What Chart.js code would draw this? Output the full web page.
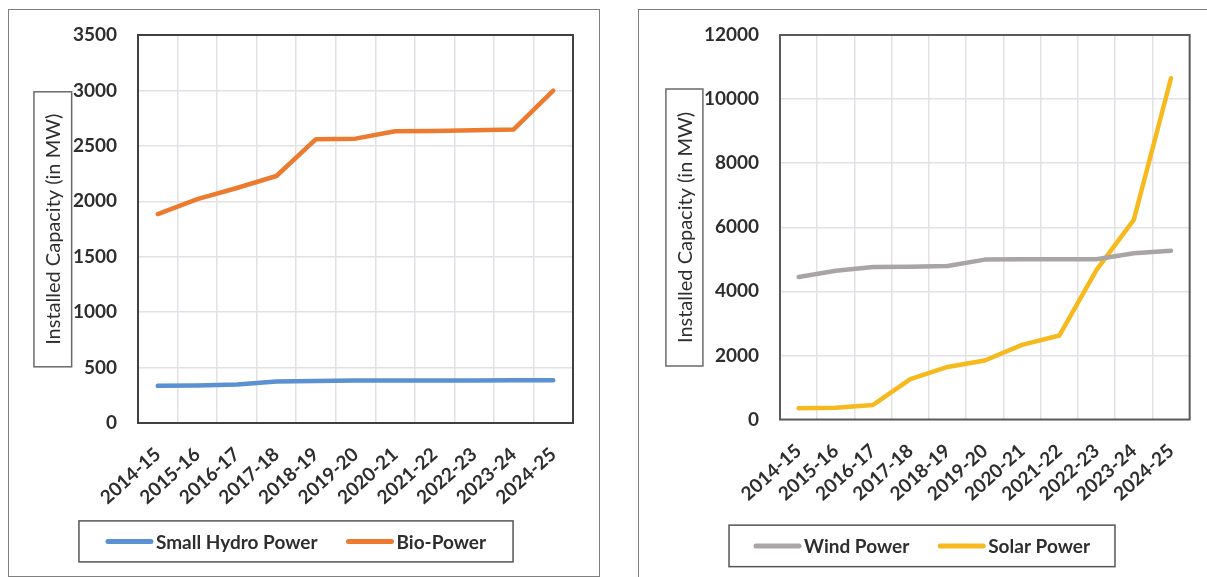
<!DOCTYPE html>
<html>
<head>
<meta charset="utf-8">
<script src="https://cdn.jsdelivr.net/npm/chart.js@4.4.1/dist/chart.umd.min.js"></script>
<style>
  html, body { margin: 0; padding: 0; background: #fff; }
  body { width: 1207px; height: 577px; overflow: hidden; position: relative; font-family: Lato, sans-serif; }
  .panel { position: absolute; box-sizing: border-box; border: 1.5px solid #808080; background: #fff; }
  .wrap { position: absolute; }
</style>
</head>
<body>
<div class="panel" style="left:8px;top:9px;width:592px;height:568px"></div>
<div class="panel" style="left:638px;top:9px;width:620px;height:620px"></div>
<div class="wrap" style="left:8px;top:10px;width:590px;height:565px"><canvas id="leftChart"></canvas></div>
<div class="wrap" style="left:639px;top:10px;width:568px;height:567px"><canvas id="rightChart"></canvas></div>

<script>
// Financial years on the x axis
const years = ['2014-15', '2015-16', '2016-17', '2017-18', '2018-19', '2019-20',
               '2020-21', '2021-22', '2022-23', '2023-24', '2024-25'];

// Installed capacity, MW
const smallHydro = [335, 338, 348, 375, 378, 383, 383, 383, 383, 386, 386];
const bioPower   = [1885, 2020, 2120, 2228, 2560, 2565, 2632, 2635, 2640, 2648, 2998];
const windPower  = [4450, 4640, 4760, 4770, 4790, 4990, 5000, 5000, 5000, 5190, 5270];
const solarPower = [350, 370, 455, 1260, 1640, 1840, 2330, 2620, 4670, 6230, 10650];

// Value axis ranges
const leftAxis  = { max: 3500, step: 500 };
const rightAxis = { max: 12000, step: 2000 };

const axisTitle = 'Installed Capacity (in MW)';

const TEXT = '#2e2e2e';
const GRID = '#e2e2e6';
const tickFont = { family: 'Lato', size: 19, weight: 'bold' };

// Plot frame, boxed axis title and boxed legend
const decorations = {
  id: 'decorations',
  beforeDatasetsDraw(chart, args, o) {
    const { ctx, chartArea: a } = chart;
    ctx.save();
    ctx.strokeStyle = o.frameColor;
    ctx.lineWidth = 2;
    ctx.strokeRect(a.left, a.top, a.right - a.left, a.bottom - a.top);
    ctx.restore();
  },
  afterDraw(chart, args, o) {
    const ctx = chart.ctx;
    ctx.save();
    // axis title in a box
    const t = o.title;
    ctx.strokeStyle = '#6a6a6a';
    ctx.lineWidth = 1.5;
    ctx.strokeRect(t.cx - t.w / 2, t.cy - t.h / 2, t.w, t.h);
    ctx.translate(t.cx, t.cy);
    ctx.rotate(-Math.PI / 2);
    ctx.fillStyle = TEXT;
    ctx.font = '20px Lato';
    ctx.textAlign = 'center';
    ctx.textBaseline = 'middle';
    ctx.fillText(t.text, 0, 1);
    ctx.restore();

    // legend
    const L = o.legend;
    ctx.save();
    ctx.font = 'bold 19px Lato';
    ctx.textBaseline = 'middle';
    const items = chart.data.datasets.map(ds => ({ label: ds.label, color: ds.borderColor, w: ctx.measureText(ds.label).width }));
    const sw = 47, gap = 3, spacing = 29;
    let total = 0;
    items.forEach((it, i) => { total += sw + gap + it.w + (i ? spacing : 0); });
    const boxW = total + L.pad * 2;
    const bx = L.cx - boxW / 2;
    ctx.strokeStyle = '#555';
    ctx.lineWidth = 1.5;
    ctx.strokeRect(bx, L.cy - L.h / 2, boxW, L.h);
    let x = bx + L.pad;
    items.forEach((it, i) => {
      if (i) x += spacing;
      ctx.strokeStyle = it.color;
      ctx.lineWidth = 5;
      ctx.lineCap = 'round';
      ctx.beginPath();
      ctx.moveTo(x + 2, L.cy);
      ctx.lineTo(x + sw - 2, L.cy);
      ctx.stroke();
      x += sw + gap;
      ctx.fillStyle = TEXT;
      ctx.fillText(it.label, x, L.cy + 1);
      x += it.w;
    });
    ctx.restore();
  }
};

function lineSet(label, data, color) {
  return {
    label, data,
    borderColor: color, backgroundColor: color,
    borderWidth: 4.5, tension: 0, pointRadius: 0,
    borderCapStyle: 'round', borderJoinStyle: 'round'
  };
}

function buildOptions(cfg) {
  return {
    responsive: true,
    maintainAspectRatio: false,
    animation: false,
    layout: { padding: { top: cfg.top, right: cfg.right, left: 0, bottom: 0 } },
    plugins: {
      legend: { display: false },
      tooltip: { enabled: false },
      decorations: cfg.deco
    },
    scales: {
      x: {
        type: 'category',
        offset: true,
        grid: { offset: true, color: GRID, lineWidth: 1.5, drawTicks: false },
        border: { display: false },
        ticks: { font: tickFont, color: TEXT, minRotation: 42, maxRotation: 42, autoSkip: false, padding: cfg.xpad },
        afterFit(s) { s.height = cfg.xh; }
      },
      y: {
        min: 0, max: cfg.axis.max,
        // invisible tick marks keep the labels clear of the plot
        grid: { color: GRID, lineWidth: 1.5, drawTicks: true, tickLength: 21, tickColor: 'rgba(0,0,0,0)' },
        border: { display: false },
        ticks: {
          stepSize: cfg.axis.step, font: tickFont, color: TEXT, padding: 0,
          callback: v => String(v)
        },
        afterFit(s) { s.width = cfg.yw; }
      }
    }
  };
}

new Chart(document.getElementById('leftChart'), {
  type: 'line',
  data: {
    labels: years,
    datasets: [
      lineSet('Small Hydro Power', smallHydro, '#5b90d2'),
      lineSet('Bio-Power', bioPower, '#ec7b30')
    ]
  },
  options: buildOptions({
    axis: leftAxis, top: 25, right: 25, yw: 130, xh: 152, xpad: 20,
    deco: {
      frameColor: '#404040',
      title: { text: axisTitle, cx: 44.8, cy: 219.3, w: 37.7, h: 275 },
      legend: { cx: 288, cy: 531.4, h: 41, pad: 27 }
    }
  }),
  plugins: [decorations]
});

new Chart(document.getElementById('rightChart'), {
  type: 'line',
  data: {
    labels: years,
    datasets: [
      lineSet('Wind Power', windPower, '#a9a5a5'),
      lineSet('Solar Power', solarPower, '#f6b91e')
    ]
  },
  options: buildOptions({
    axis: rightAxis, top: 25, right: 16, yw: 141, xh: 157.5, xpad: 20,
    deco: {
      frameColor: '#5a5a5a',
      title: { text: axisTitle, cx: 45.4, cy: 217.5, w: 37, h: 277 },
      legend: { cx: 283, cy: 535.9, h: 41.5, pad: 25 }
    }
  }),
  plugins: [decorations]
});
</script>
</body>
</html>
